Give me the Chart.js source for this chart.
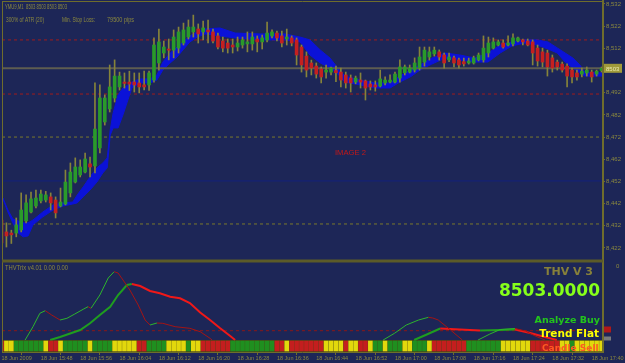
<!DOCTYPE html>
<html>
<head>
<meta charset="utf-8">
<title>YMU9,M1</title>
<script src="https://cdn.jsdelivr.net/npm/chart.js@4.4.1/dist/chart.umd.min.js"></script>
<style>
  html, body { margin: 0; padding: 0; background: #1d2657; overflow: hidden; }
  canvas { display: block; }
</style>
</head>
<body>
<canvas id="chart" width="625" height="363"></canvas>
<script>
// ===== DATA =====
const timeTicks = [0, 8, 16, 24, 32, 40, 48, 56, 64, 72, 80, 88, 96, 104, 112, 120];
const timeLabels = ['18 Jun 2009', '18 Jun 15:48', '18 Jun 15:56', '18 Jun 16:04', '18 Jun 16:12', '18 Jun 16:20',
  '18 Jun 16:28', '18 Jun 16:36', '18 Jun 16:44', '18 Jun 16:52', '18 Jun 17:00', '18 Jun 17:08',
  '18 Jun 17:16', '18 Jun 17:24', '18 Jun 17:32', '18 Jun 17:40'];
const priceTicks = [8532, 8522, 8512, 8492, 8482, 8472, 8462, 8452, 8442, 8432, 8422];

// one candle per minute, 15:40 -> 17:42
const opens = [8434.6,8429.2,8428.7,8428.7,8430.1,8434.2,8438.2,8440.9,8443.2,8443.6,
  8445.0,8443.6,8440.9,8441.8,8446.8,8451.7,8454.9,8456.2,8459.9,8459.0,
  8467.1,8478.8,8484.7,8489.6,8494.6,8496.8,8496.8,8496.8,8496.4,8495.5,
  8495.5,8497.7,8505.4,8509.9,8511.7,8511.2,8512.1,8514.4,8517.1,8519.4,
  8520.7,8519.4,8520.3,8519.4,8517.6,8515.3,8514.4,8513.5,8512.6,8513.5,
  8514.0,8514.0,8516.2,8514.9,8515.8,8517.6,8518.9,8517.6,8516.2,8516.7,
  8515.8,8512.6,8508.5,8505.4,8504.0,8502.7,8501.3,8501.3,8502.0,8501.3,
  8500.0,8498.6,8496.8,8497.7,8497.3,8495.9,8495.5,8495.0,8496.4,8496.8,
  8496.8,8498.6,8501.0,8501.3,8502.2,8503.1,8505.8,8508.1,8509.5,8510.4,
  8509.0,8506.8,8507.7,8506.8,8506.0,8505.4,8505.4,8506.8,8506.8,8509.9,
  8512.1,8513.5,8514.4,8513.5,8514.0,8515.3,8515.8,8515.3,8514.9,8512.1,
  8510.4,8509.9,8507.7,8505.8,8504.9,8504.0,8502.2,8500.9,8500.4,8500.9,
  8501.3,8500.4,8502.0];
const highs = [8436.0,8433.3,8430.0,8435.5,8446.8,8445.9,8447.2,8448.1,8448.1,8447.5,
  8446.8,8445.0,8449.0,8457.1,8460.3,8462.6,8461.7,8464.8,8463.0,8496.4,
  8495.5,8491.0,8504.5,8506.8,8501.3,8500.9,8501.7,8500.9,8500.9,8501.7,
  8501.7,8516.7,8520.7,8515.3,8516.2,8520.3,8521.6,8523.4,8524.8,8527.0,
  8523.0,8524.3,8524.8,8520.7,8518.9,8517.1,8516.2,8516.2,8517.1,8517.1,
  8519.4,8519.4,8517.6,8518.0,8523.9,8520.3,8519.8,8519.8,8520.7,8517.6,
  8516.7,8513.5,8510.4,8506.7,8505.4,8503.6,8504.5,8503.6,8504.0,8503.1,
  8501.3,8500.0,8499.5,8500.9,8497.7,8497.3,8497.3,8502.2,8499.1,8500.0,
  8501.3,8506.8,8504.5,8504.5,8507.7,8512.6,8512.6,8512.6,8512.6,8511.3,
  8509.9,8509.9,8508.5,8507.6,8507.6,8507.6,8508.5,8509.9,8517.6,8517.1,
  8516.7,8515.8,8515.8,8517.6,8518.5,8517.1,8516.2,8516.2,8515.8,8513.5,
  8512.1,8511.2,8509.0,8506.7,8505.8,8505.0,8503.1,8502.2,8503.1,8503.6,
  8502.2,8502.2,8503.6];
const lows = [8420.2,8422.4,8424.0,8427.0,8429.2,8433.3,8437.8,8440.0,8442.3,8442.7,
  8439.1,8435.5,8440.5,8441.4,8445.0,8451.3,8454.0,8455.8,8454.0,8455.8,
  8464.8,8477.4,8483.3,8487.8,8493.2,8494.1,8493.0,8492.3,8491.9,8493.2,
  8493.0,8496.8,8502.2,8507.7,8506.8,8507.7,8509.9,8513.5,8516.2,8517.1,
  8514.4,8515.8,8514.4,8514.4,8511.7,8510.4,8509.9,8509.9,8510.8,8512.1,
  8510.4,8511.2,8510.4,8511.7,8514.9,8516.7,8515.3,8512.6,8513.5,8513.1,
  8504.5,8501.3,8499.1,8500.0,8498.6,8496.4,8498.6,8500.0,8497.0,8494.6,
  8494.1,8492.3,8496.0,8494.1,8488.7,8493.2,8492.7,8494.6,8495.5,8496.4,
  8496.4,8496.8,8500.0,8500.9,8501.3,8502.2,8504.0,8506.7,8508.5,8506.7,
  8503.1,8506.0,8503.6,8503.1,8504.0,8504.9,8504.9,8506.3,8505.8,8508.1,
  8511.7,8513.1,8512.1,8513.1,8513.1,8514.9,8513.5,8513.1,8504.5,8504.0,
  8503.6,8499.5,8501.3,8502.2,8501.3,8494.6,8496.4,8497.7,8499.1,8499.5,
  8496.8,8499.5,8501.3];
const closes = [8424.2,8427.4,8427.9,8432.4,8439.1,8442.3,8444.1,8444.5,8446.3,8445.9,
  8442.3,8437.8,8442.7,8451.7,8456.2,8458.5,8458.5,8462.1,8458.5,8475.6,
  8489.6,8489.6,8494.6,8499.5,8499.5,8496.2,8495.9,8495.5,8494.6,8494.6,
  8500.9,8513.5,8514.9,8512.6,8511.2,8517.1,8519.4,8520.3,8521.6,8521.6,
  8518.5,8521.2,8519.4,8515.3,8512.6,8512.1,8512.1,8512.6,8514.4,8515.8,
  8514.9,8517.1,8514.9,8516.7,8518.9,8519.4,8516.7,8514.4,8517.1,8514.4,
  8509.0,8504.5,8502.2,8503.1,8500.4,8499.1,8502.2,8503.1,8501.0,8497.7,
  8496.4,8496.4,8498.6,8496.8,8494.1,8494.6,8494.6,8498.2,8497.7,8497.7,
  8500.4,8503.6,8503.6,8503.1,8505.4,8508.1,8511.2,8510.4,8511.2,8508.1,
  8505.4,8508.1,8505.4,8504.5,8505.0,8506.3,8507.7,8509.0,8512.1,8514.4,
  8514.9,8514.9,8512.6,8514.4,8516.7,8516.7,8514.9,8513.5,8509.9,8506.3,
  8505.8,8503.6,8503.1,8503.6,8502.2,8499.5,8499.1,8499.1,8501.7,8502.2,
  8499.1,8501.7,8503.0];

// ATR stop band (blue), sampled along the bars
const bandX = [0.3,1.3,2.3,3.4,4.4,5.4,6.4,8.4,10.5,12.5,14.5,15.4,16.6,18,19.4,20.6,21.5,22.1,22.7,23.7,
  24.7,25.7,26.5,28.2,30.2,31.6,32.8,34.3,35.7,36.9,38.3,39.8,41.4,44.4,47.5,52.6,57.6,60.7,62.7,64.8,
  66.8,68.4,69.8,72.9,75.9,79,81,83.1,85.1,87.5,90.2,93.2,96.3,98.9,101.4,103.8,106.4,108.9,111.1,113,
  114.6,116.2,117.6,118.6,122.3];
const bandTop = [8444.5,8439.1,8435.1,8434.2,8433.3,8433.3,8434.6,8438.2,8441.4,8442.3,
  8442.7,8445.9,8449.5,8454.0,8458.1,8460.3,8462.6,8475.2,8482.9,8491.0,
  8494.1,8495.5,8496.8,8498.2,8498.2,8500.0,8505.8,8509.9,8512.6,8514.9,
  8517.6,8519.4,8520.7,8521.2,8518.9,8518.5,8518.5,8517.1,8515.8,8511.3,
  8507.6,8503.1,8499.5,8497.7,8496.4,8496.4,8499.5,8502.2,8504.5,8507.6,
  8509.9,8509.0,8507.6,8509.9,8513.5,8514.9,8515.8,8515.8,8514.9,8512.2,
  8509.9,8507.6,8504.5,8501.3,8500.9];
const bandBot = [8444.1,8438.2,8433.3,8428.7,8427.0,8427.4,8432.4,8436.0,8439.1,8440.9,
  8441.8,8442.3,8445.0,8448.1,8451.7,8455.8,8458.1,8472.9,8476.1,8476.1,
  8482.0,8488.7,8494.1,8496.4,8496.4,8497.7,8502.2,8505.4,8508.1,8511.3,
  8514.9,8517.1,8518.5,8517.6,8516.7,8515.8,8515.8,8514.9,8509.0,8505.4,
  8503.1,8500.4,8496.8,8495.5,8494.1,8494.1,8496.8,8499.1,8502.2,8504.9,
  8507.6,8506.7,8505.8,8505.8,8509.9,8513.1,8514.4,8513.5,8511.7,8509.9,
  8505.8,8503.1,8500.9,8499.5,8499.5];

const priceLevels = [8515.8, 8491.4, 8472.0, 8432.8, 8452.2];
const lastPrice = 8503.0;

// THVTrix window
const fastX = [4.8,6.4,7.8,8.9,10.2,11.9,13.3,14.9,16.6,17.6,18.2,20.0,21.7,22.9,23.7,24.7,26.1,27.8,29.2,30.2,
  31.6,32.8,35.3,38.3,40.4,42.4,42.8,43.0,77.6,79.9,82.3,84.8,86.8,87.7,88.8,91.3,93.7,94,
  96.9,99.3,101.4,104.4,106.5,108.5,110.5];
const fastVal = [0,13.3,26.7,29.3,25,20,21.7,26,30.7,33.3,31.7,45,62,68.3,67,60,50,35,20,15,
  17,16.7,13.3,11.7,8.3,1.7,0,null,0,6.7,15,20,22.7,22,20,10,0,null,
  0,6,10.5,11.5,9,4,0];
const slowX = [9.9,11.9,16.0,18.0,20.0,22.1,23.7,25.5,26.5,28.2,30.2,32.2,34.3,36.3,38.3,40.4,42.4,44.4,46.5,47.5,
  47.7,83.9,86.7,89.2,93.2,97.3,101.4,104.4,107.5,110.5,112.9];
const slowVal = [0,3,10,16.7,25,33.3,45,55,56,54,49,46.7,43.3,41.7,37,27.5,20,12,4,0,
  null,0,6,11.5,10.5,9.5,10,10.5,7,3,0];
const trixLevel = 9.3;

// signal strip, one cell per bar (10 per group): r = sell, g = buy, y = flat
const signalStrip = ['ryyggggggy', 'rrygggggyg', 'gggyyyyyrr', 'ggggyyyygy', 'yrrrrrrggg',
  'ggggggrryr', 'rrrrrryyyy', 'ryyrryggyg', 'ggyygggyrr', 'rrrrrggggg', 'ggyyyyyyrr',
  'rrrryygyyy', 'yyy'].join('').split('');

// ===== STYLE =====
const BG = '#1d2657', OLIVE = '#6f6d2c', TXT = '#8c893e';
const UP = '#2a9a2a', DOWN = '#c42020', WICK = '#86833a', BAND = '#0b12d8';
const STRIP = { r: '#c41e1e', g: '#1f8f1f', y: '#e2d80c' };
const XMIN = 0.1, XMAX = 122.3;
const small = { family: 'Liberation Sans', size: 5.5 };
const levelStyle = [
  { color: '#a01c1c', dash: [3, 3] },
  { color: '#a01c1c', dash: [3, 3] },
  { color: '#7a782c', dash: [3, 3] },
  { color: '#7a782c', dash: [3, 3] },
  { color: '#13217e', dash: [] }
];

const bars = opens.map((_, i) => i);

function flatLine(v, axis, color, dash, width, order) {
  return { type: 'line', yAxisID: axis, data: [{ x: XMIN, y: v }, { x: XMAX, y: v }],
    borderColor: color, borderDash: dash, borderWidth: width, pointRadius: 0, order };
}

function trixLine(xs, vs, up, down, width) {
  return {
    type: 'line', yAxisID: 'y2', data: xs.map((x, k) => ({ x, y: vs[k] })),
    borderColor: up, borderWidth: width, pointRadius: 0, spanGaps: false, tension: 0, order: 2,
    segment: { borderColor: s => (s.p1.parsed.y >= s.p0.parsed.y ? up : down) }
  };
}

const datasets = [
  ...priceLevels.map((v, k) => flatLine(v, 'y', levelStyle[k].color, levelStyle[k].dash, 1, 7)),
  flatLine(trixLevel, 'y2', '#8a1818', [3, 3], 1, 7),
  { type: 'line', yAxisID: 'y', data: bandX.map((x, k) => ({ x, y: bandTop[k] })),
    borderColor: BAND, borderWidth: 1, pointRadius: 0, fill: false, order: 5 },
  { type: 'line', yAxisID: 'y', data: bandX.map((x, k) => ({ x, y: bandBot[k] })),
    borderColor: BAND, borderWidth: 1, pointRadius: 0, fill: '-1', backgroundColor: BAND, order: 5 },
  flatLine(lastPrice, 'y', '#5e5d50', [], 2, 4),
  { type: 'bar', yAxisID: 'y', data: bars.map(i => ({ x: i, y: [lows[i], highs[i]] })),
    backgroundColor: WICK, barThickness: 1, grouped: false, order: 3 },
  { type: 'bar', yAxisID: 'y', data: bars.map(i => ({ x: i, y: [opens[i], closes[i]] })),
    backgroundColor: c => (closes[c.dataIndex] >= opens[c.dataIndex] ? UP : DOWN),
    barThickness: 3, minBarLength: 1, grouped: false, order: 1 },
  trixLine(fastX, fastVal, '#2db42d', '#a41414', 1),
  trixLine(slowX, slowVal, '#1f9e1f', '#f01818', 2),
  { type: 'bar', yAxisID: 'y2', data: bars.map(i => ({ x: i, y: [-11, -1] })),
    backgroundColor: c => STRIP[signalStrip[c.dataIndex]] || STRIP.y,
    barThickness: 4, grouped: false, order: 0 }
];

// ===== FRAME + TEXT =====
function txt(g, s, x, y, font, color, align, maxW) {
  g.font = font; g.fillStyle = color; g.textAlign = align || 'left'; g.textBaseline = 'alphabetic';
  if (maxW) g.fillText(s, x, y, maxW); else g.fillText(s, x, y);
}

const mt4Frame = {
  id: 'mt4Frame',
  beforeDraw(c) {
    const g = c.ctx, a = c.chartArea, z = c.scales.y2.getPixelForValue(0);
    g.save();
    g.fillStyle = BG; g.fillRect(0, 0, c.width, c.height);
    g.fillStyle = '#45441a'; g.fillRect(a.left, z, a.right - a.left, a.bottom - z);
    g.restore();
  },
  afterDraw(c) {
    const g = c.ctx, a = c.chartArea;
    g.save();
    g.strokeStyle = OLIVE; g.lineWidth = 1;
    g.beginPath();
    g.moveTo(a.left + 0.5, a.top); g.lineTo(a.left + 0.5, a.bottom);
    g.moveTo(a.left, a.top - 0.5); g.lineTo(a.right, a.top - 0.5);
    g.moveTo(a.left, a.bottom + 0.5); g.lineTo(a.right, a.bottom + 0.5);
    g.stroke();
    g.lineWidth = 2;
    g.beginPath(); g.moveTo(a.right, 0); g.lineTo(a.right, a.bottom + 1); g.stroke();
    const sep = c.scales.y.bottom;
    g.fillStyle = '#5c5b28'; g.fillRect(a.left, sep - 1.5, a.right - a.left, 3);

    // last price tag
    const py = c.scales.y.getPixelForValue(lastPrice);
    g.fillStyle = '#a09a3a'; g.fillRect(a.right + 1, py - 4.5, 18, 9);
    txt(g, '8503', a.right + 3, py + 2.5, '6px "Liberation Sans"', '#ecebb0');

    // header texts
    txt(g, 'YMU9,M1  8503 8503 8503 8503', 5, 8.5, '7px "Liberation Sans"', TXT, 'left', 62);
    txt(g, '300% of ATR (20)', 6, 21.5, '7px "Liberation Sans"', TXT, 'left', 38);
    txt(g, 'Min. Stop Loss:', 62, 21.5, '7px "Liberation Sans"', TXT, 'left', 33);
    txt(g, '79500 pips', 107, 21.5, '7px "Liberation Sans"', TXT, 'left', 27);
    txt(g, 'IMAGE 2', 335, 155, '8px "Liberation Sans"', '#c41818', 'left', 31);
    txt(g, 'THVTrix v4.01 0.00 0.00', 5, 269.5, '7px "Liberation Sans"', TXT, 'left', 63);

    // THV panel texts
    txt(g, 'THV V 3', 593, 275, 'bold 11px "DejaVu Sans"', '#87803a', 'right');
    txt(g, '8503.0000', 600, 296, 'bold 17px "DejaVu Sans"', '#86ff1a', 'right');
    txt(g, 'Analyze Buy', 600, 323, 'bold 9.5px "DejaVu Sans"', '#22c51c', 'right');
    txt(g, 'Trend Flat', 599, 337, 'bold 10.5px "DejaVu Sans"', '#ffff00', 'right');
    txt(g, 'Candle Sell', 542, 351, 'bold 9px "DejaVu Sans"', '#ff5a22', 'left');

    // indicator value tags
    g.fillStyle = '#b01818'; g.fillRect(604, 326.5, 7, 6);
    g.fillStyle = '#7a7a7a'; g.fillRect(604, 336.5, 7, 4);
    g.restore();
  }
};

// ===== CHART =====
new Chart(document.getElementById('chart'), {
  type: 'bar',
  data: { datasets },
  options: {
    responsive: false,
    animation: false,
    events: [],
    layout: { padding: { left: 2, top: 2, right: 0, bottom: 0 } },
    plugins: { legend: { display: false }, tooltip: { enabled: false } },
    scales: {
      x: {
        type: 'linear', min: XMIN, max: XMAX, offset: false,
        grid: { drawOnChartArea: false, tickLength: 3, color: OLIVE },
        border: { display: false },
        afterBuildTicks: s => { s.ticks = timeTicks.map(v => ({ value: v })); },
        afterFit: s => { s.height = 11; s.paddingLeft = 0; s.paddingRight = 0; },
        ticks: { autoSkip: false, maxRotation: 0, align: 'start', padding: 0, color: TXT, font: small,
          callback: (v, i) => timeLabels[i] }
      },
      y: {
        type: 'linear', position: 'right', stack: 'panes', stackWeight: 259,
        min: 8416.1, max: 8532.9,
        grid: { drawOnChartArea: false, tickLength: 2, color: OLIVE },
        border: { display: false },
        afterBuildTicks: s => { s.ticks = priceTicks.map(v => ({ value: v })); },
        afterFit: s => { s.width = 22; s.paddingTop = 0; s.paddingBottom = 0; },
        ticks: { autoSkip: false, padding: 1, color: TXT, font: { family: 'Liberation Sans', size: 6 } }
      },
      y2: {
        type: 'linear', position: 'right', stack: 'panes', stackWeight: 91,
        min: -12, max: 79,
        grid: { drawOnChartArea: false, drawTicks: false },
        border: { display: false },
        afterBuildTicks: s => { s.ticks = [{ value: 74 }]; },
        afterFit: s => { s.width = 22; s.paddingTop = 0; s.paddingBottom = 0; },
        ticks: { padding: 13, color: TXT, font: { family: 'Liberation Sans', size: 6 }, callback: () => '0' }
      }
    }
  },
  plugins: [mt4Frame]
});
</script>
</body>
</html>
